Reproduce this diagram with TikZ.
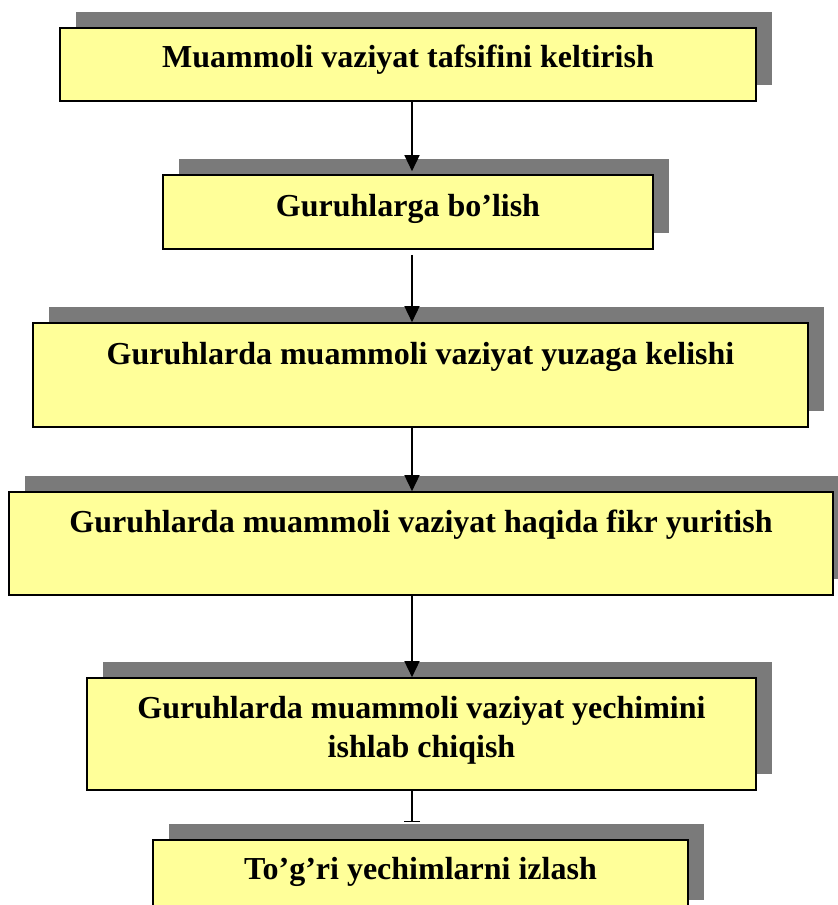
\documentclass[tikz,border=0pt]{standalone}
\usepackage{fontspec}
\setmainfont{Liberation Serif}
\usetikzlibrary{shadows,arrows.meta}
\definecolor{boxfill}{HTML}{FFFF99}
\definecolor{shadowgray}{RGB}{122,122,122}
\tikzset{
  stepbox/.style={draw=black, line width=1.6bp, fill=boxfill, inner sep=0pt,
    drop shadow={shadow xshift=16bp, shadow yshift=16bp, fill=shadowgray, opacity=1}},
  boxtext/.style={anchor=base, inner sep=0pt, align=center,
    font=\fontsize{32bp}{39bp}\selectfont\bfseries},
  flow/.style={line width=1.5bp, -{Triangle[width=15bp,length=16bp]}},
}
\begin{document}
\begin{tikzpicture}[x=1bp,y=-1bp]
\useasboundingbox (0,0) rectangle (838,905);
\clip (0,0) rectangle (838,905);
\coordinate (ax) at (412,0);
\node[stepbox, minimum width=696bp, minimum height=73bp] (b1) at (408,64.5) {};
\node[stepbox, minimum width=490bp, minimum height=74bp] (b2) at (408,212) {};
\node[stepbox, minimum width=775bp, minimum height=104bp] (b3) at (420.5,375) {};
\node[stepbox, minimum width=824bp, minimum height=103bp] (b4) at (421,543.5) {};
\node[stepbox, minimum width=669bp, minimum height=112bp] (b5) at (421.5,734) {};
\node[stepbox, minimum width=535bp, minimum height=76bp] (b6) at (420.5,878) {};
\node[boxtext] (t1) at ([yshift=-40bp]b1.north) {Muammoli vaziyat tafsifini keltirish};
\node[boxtext] (t2) at ([yshift=-42bp]b2.north) {Guruhlarga bo’lish};
\node[boxtext] (t3) at ([yshift=-42bp]b3.north) {Guruhlarda muammoli vaziyat yuzaga kelishi};
\node[boxtext] (t4) at ([yshift=-41bp]b4.north) {Guruhlarda muammoli vaziyat haqida fikr yuritish};
\node[boxtext, anchor=north] (t5) at ([yshift=-19bp]b5.north) {Guruhlarda muammoli vaziyat yechimini\\ishlab chiqish};
\node[boxtext] (t6) at ([yshift=-40bp]b6.north) {To’g’ri yechimlarni izlash};
\draw[flow, shorten >=3bp] (ax |- b1.south) -- (ax |- b2.north);
\draw[flow, shorten <=5bp] (ax |- b2.south) -- (ax |- b3.north);
\draw[flow] (ax |- b3.south) -- (ax |- b4.north);
\draw[flow] (ax |- b4.south) -- (ax |- b5.north);
\draw[line width=1.5bp, -{Bar[width=16bp,line width=1bp]}, shorten >=17bp] (ax |- b5.south) -- (ax |- b6.north);
\end{tikzpicture}
\end{document}
